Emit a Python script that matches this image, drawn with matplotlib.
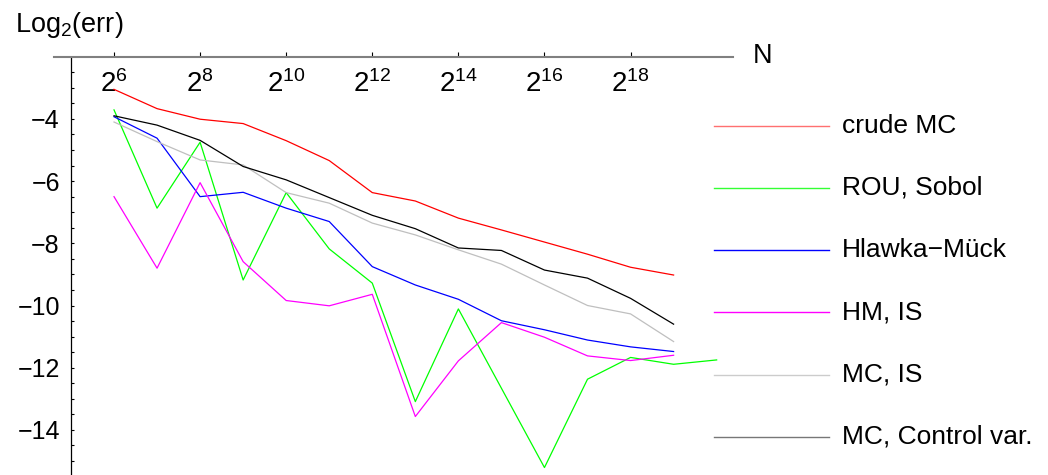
import matplotlib
matplotlib.use("Agg")
import matplotlib.pyplot as plt
from matplotlib.lines import Line2D

plt.rcParams["font.family"] = ["Liberation Sans", "DejaVu Sans"]
plt.rcParams["mathtext.fontset"] = "custom"
plt.rcParams["mathtext.rm"] = "Liberation Sans"
plt.rcParams["mathtext.it"] = "Liberation Sans:italic"
plt.rcParams["mathtext.bf"] = "Liberation Sans:bold"

# log2(N) for each run
n_exp = [6, 7, 8, 9, 10, 11, 12, 13, 14, 15, 16, 17, 18, 19]
n_exp_sobol = [6, 7, 8, 9, 10, 11, 12, 13, 14, 15, 16, 17, 18, 19, 20]

# log2(err) per method
crude_mc = [-3.05, -3.67, -4.01, -4.15, -4.70, -5.34, -6.37, -6.64, -7.19,
            -7.57, -7.96, -8.35, -8.77, -9.02]
rou_sobol = [-3.71, -6.87, -4.75, -9.18, -6.37, -8.18, -9.28, -13.09, -10.11,
             -12.66, -15.21, -12.37, -11.67, -11.89, -11.75]
hlawka_muck = [-3.93, -4.62, -6.50, -6.36, -6.87, -7.30, -8.75, -9.34, -9.80,
               -10.49, -10.78, -11.11, -11.33, -11.48]
hm_is = [-6.50, -8.80, -6.05, -8.59, -9.84, -10.01, -9.64, -13.57, -11.78,
         -10.55, -11.02, -11.62, -11.77, -11.60]
mc_is = [-4.10, -4.73, -5.32, -5.48, -6.37, -6.71, -7.35, -7.73, -8.21,
         -8.67, -9.34, -10.00, -10.27, -11.16]
mc_control = [-3.90, -4.20, -4.69, -5.53, -5.96, -6.53, -7.10, -7.53, -8.15,
              -8.23, -8.86, -9.12, -9.77, -10.60]

labels = ["crude MC", "ROU, Sobol", "Hlawka\u2212M\u00fcck", "HM, IS",
          "MC, IS", "MC, Control var."]
colors = ["#ff0000", "#00ff00", "#0000ff", "#ff00ff", "#bfbfbf", "#000000"]
legend_colors = ["#ff7070", "#33ff33", "#0000ff", "#ff00ff", "#cccccc", "#777777"]

x_ticks = [6, 8, 10, 12, 14, 16, 18]
x_ticklabels = [r"$\mathregular{2^{%d}}$" % t for t in x_ticks]
y_ticks = [-4, -6, -8, -10, -12, -14]

W, H = 1048, 475
fig = plt.figure(figsize=(W / 100, H / 100), dpi=100)
ax = fig.add_axes([54 / W, 0, (733 - 54) / W, (H - 56.7) / H])

series = [(n_exp, crude_mc), (n_exp_sobol, rou_sobol), (n_exp, hlawka_muck),
          (n_exp, hm_is), (n_exp, mc_is), (n_exp, mc_control)]
for (xs, ys), c in zip(series, colors):
    ax.plot(xs, ys, color=c, lw=0.9)

ax.set_xlim(4.606, 20.38)
ax.set_ylim(-15.45, -2.0)

for s in ["right", "bottom"]:
    ax.spines[s].set_visible(False)
ax.spines["top"].set_color("#808080")
ax.spines["top"].set_linewidth(1.5)
ax.spines["left"].set_position(("data", 5))
ax.spines["left"].set_linewidth(0.9)

ax.set_xticks(x_ticks)
ax.set_xticklabels(x_ticklabels)
ax.tick_params(axis="x", top=True, bottom=False, labeltop=True,
               labelbottom=False, direction="out", length=3.6, width=0.8,
               pad=-33, labelsize=20)

ax.set_yticks(y_ticks)
ax.set_yticks([v / 2 for v in range(-30, -4)], minor=True)
ax.tick_params(axis="y", which="both", direction="in", length=2, width=0.8,
               pad=8, labelsize=18)

fig.text(15 / W, 1 - 32.3 / H, r"Log$_\mathregular{2}$(err)", fontsize=19.5,
         va="baseline", ha="left")
fig.text(752.7 / W, 1 - 63.3 / H, "N", fontsize=19.5, va="baseline",
         ha="left")

# legend drawn beside the plot
for i, (lab, c) in enumerate(zip(labels, legend_colors)):
    yy = 1 - (125.7 + i * 62.2) / H
    fig.add_artist(Line2D([714 / W, 829 / W], [yy, yy], color=c, lw=1.0,
                          transform=fig.transFigure))
    fig.text(841.7 / W, yy, lab, fontsize=19, va="center", ha="left")

fig.savefig("out.png", dpi=100)
